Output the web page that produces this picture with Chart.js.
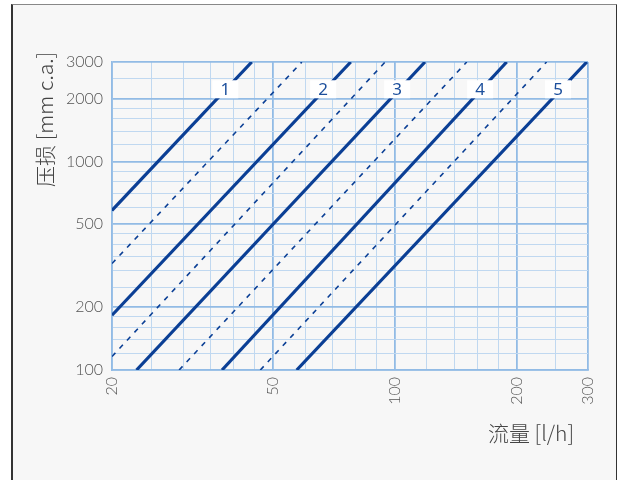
<!DOCTYPE html>
<html>
<head>
<meta charset="utf-8">
<script src="https://cdn.jsdelivr.net/npm/chart.js@4"></script>
<style>
  html, body { margin:0; padding:0; background:#ffffff; }
  #frame { position:absolute; left:11px; top:4px; width:603px; height:480px;
           background:#f7f7f7; border-left:2px solid #333; border-right:2px solid #333; border-top:1px solid #888; }
  canvas { position:absolute; left:0; top:0; }
</style>
</head>
<body>
<div id="frame"></div>
<canvas id="c" width="617" height="480"></canvas>
<script>
// ---- data ----
const curveNames  = ['1', '1-2', '2', '2-3', '3', '3-4', '4', '4-5', '5'];
const startFlow   = [20, 20, 20, 20, 23.0, 29.3, 37.4, 46.5, 57.2];
const startLoss   = [583, 324, 183, 116, 100, 100, 100, 100, 100];
const endFlow     = [44.3, 58.9, 77.8, 94.6, 118.7, 150.5, 188.9, 237, 298];
const endLoss     = [3000, 3000, 3000, 3000, 3000, 3000, 3000, 3000, 3000];

const labelTexts  = ['1', '2', '3', '4', '5'];
const labelFlow   = [38.1, 66.5, 101.3, 162.4, 253];
const labelLoss   = 2220;

const xGridValues = [20, 25, 30, 35, 40, 45, 50, 60, 70, 80, 90, 100, 120, 140, 160, 180, 200, 250, 300];
const xTickLabels = [20, 50, 100, 200, 300];
const xMajor      = [50, 100, 200, 300];
const yGridValues = [100, 120, 140, 160, 180, 200, 250, 300, 350, 400, 450, 500, 600, 700, 800, 900,
                     1000, 1200, 1400, 1600, 1800, 2000, 2500, 3000];
const yTickLabels = [100, 200, 500, 1000, 2000, 3000];
const yMajor      = [200, 500, 1000, 2000, 3000];

const xTitle = '流量 [l/h]';
const yTitle = '压损 [mm c.a.]';

// ---- chart ----
const LINE = '#0b3f95';
const GRID = '#c0d8f0';
const GRID_MAJOR = '#92bbe5';
const TICKFONT = { family: 'Lato, "DejaVu Sans", sans-serif', size: 16, weight: '300' };

const datasets = curveNames.map((n, i) => {
  const dashed = i % 2 === 1;
  return {
    label: n,
    data: [{ x: startFlow[i], y: startLoss[i] }, { x: endFlow[i], y: endLoss[i] }],
    borderColor: LINE,
    borderWidth: dashed ? 1.6 : 3.2,
    borderDash: dashed ? [5, 6] : [],
    pointRadius: 0,
    fill: false,
    tension: 0
  };
});

const overlay = {
  id: 'overlay',
  afterDatasetsDraw(chart) {
    const ctx = chart.ctx;
    const xs = chart.scales.x, ys = chart.scales.y;
    ctx.save();
    ctx.font = '17px "Noto Sans", sans-serif';
    ctx.textAlign = 'center';
    ctx.textBaseline = 'middle';
    labelTexts.forEach((t, i) => {
      const px = xs.getPixelForValue(labelFlow[i]);
      const py = ys.getPixelForValue(labelLoss);
      ctx.fillStyle = '#ffffff';
      ctx.fillRect(px - 13, py - 9, 26, 18);
      ctx.fillStyle = '#1c4f9c';
      ctx.fillText(t, px, py + 1);
    });
    ctx.restore();
  },
  afterDraw(chart) {
    const ctx = chart.ctx;
    ctx.save();
    ctx.fillStyle = '#444';
    ctx.font = '300 21px "Noto Sans CJK SC", sans-serif';
    ctx.textBaseline = 'middle';
    ctx.textAlign = 'right';
    ctx.fillText(xTitle, 574, 433);
    ctx.translate(45, 52);
    ctx.rotate(-Math.PI / 2);
    ctx.textAlign = 'right';
    ctx.fillText(yTitle, 0, 0);
    ctx.restore();
  }
};

new Chart(document.getElementById('c'), {
  type: 'line',
  data: { datasets },
  plugins: [overlay],
  options: {
    responsive: false,
    animation: false,
    layout: { padding: { left: 0, right: 29, top: 62, bottom: 0 } },
    plugins: { legend: { display: false }, tooltip: { enabled: false } },
    scales: {
      x: {
        type: 'logarithmic', min: 20, max: 300,
        afterBuildTicks: s => { s.ticks = xGridValues.map(v => ({ value: v })); },
        afterFit: s => { s.height = 110; },
        ticks: {
          autoSkip: false, minRotation: 90, maxRotation: 90, padding: 7,
          color: '#555', font: TICKFONT,
          callback: v => xTickLabels.includes(v) ? String(v) : ''
        },
        grid: {
          drawTicks: false,
          color: c => xMajor.includes(c.tick && c.tick.value) ? GRID_MAJOR : GRID,
          lineWidth: c => xMajor.includes(c.tick && c.tick.value) ? 1.8 : 1
        },
        border: { color: GRID_MAJOR, width: 1.8 }
      },
      y: {
        type: 'logarithmic', min: 100, max: 3000,
        afterBuildTicks: s => { s.ticks = yGridValues.map(v => ({ value: v })); },
        afterFit: s => { s.width = 112; },
        ticks: {
          autoSkip: false, padding: 9,
          color: '#555', font: TICKFONT,
          callback: v => yTickLabels.includes(v) ? String(v) : ''
        },
        grid: {
          drawTicks: false,
          color: c => yMajor.includes(c.tick && c.tick.value) ? GRID_MAJOR : GRID,
          lineWidth: c => yMajor.includes(c.tick && c.tick.value) ? 1.8 : 1
        },
        border: { color: GRID_MAJOR, width: 1.8 }
      }
    }
  }
});
</script>
</body>
</html>
